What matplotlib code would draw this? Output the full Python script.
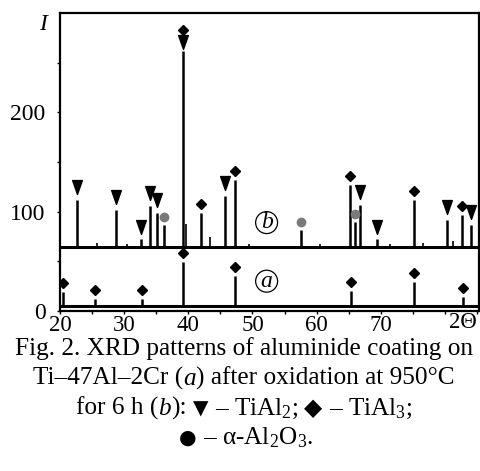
import matplotlib
matplotlib.use('Agg')
import matplotlib.pyplot as plt
from matplotlib.path import Path
from matplotlib.ticker import FixedLocator

plt.rcParams['font.family'] = ['Liberation Serif', 'DejaVu Sans']
plt.rcParams['mathtext.fontset'] = 'custom'
plt.rcParams['mathtext.rm'] = 'Liberation Serif'
plt.rcParams['mathtext.it'] = 'Liberation Serif:italic'

# ---------------- data ----------------
# pattern (b): after oxidation, offset baseline
baseline_b = 64
theta_b = [22.6, 28.7, 32.7, 34.1, 35.1, 36.2, 39.1, 42.0, 45.7, 47.3,
           57.5, 65.2, 66.0, 66.7, 69.4, 75.1, 80.3, 82.6, 84.0]
height_b = [112, 102, 72, 106, 99, 87, 262, 99, 116, 132,
            82, 127, 90, 107, 72, 112, 92, 97, 87]
phase_b = ['T', 'T', 'T', 'T', 'T', 'C', 'TD', 'D', 'T', 'D',
           'C', 'D', 'C', 'T', 'T', 'D', 'T', 'D', 'T']
minor_theta_b = [25.8, 30.5, 39.6, 43.4, 49.5, 60.5, 71.5, 76.6, 81.3]
minor_height_b = [68, 67, 88, 75, 67, 67, 67, 68, 70]

# pattern (a): aluminide coating
baseline_a = 5
theta_a = [20.5, 25.45, 32.8, 39.2, 47.3, 65.3, 75.1, 82.8]
height_a = [19, 12, 12, 49, 35, 20, 29, 14]
phase_a = ['D', 'D', 'D', 'D', 'D', 'D', 'D', 'D']

x_ticks = [20, 30, 40, 50, 60, 70, 80]
x_tick_labels = ['20', '30', '40', '50', '60', '70', '']
y_ticks = [0, 100, 200]
y_tick_labels = ['0', '100', '200']

# caption lines as (text, style) segments; style: n normal, i italic, s symbol
caption = [
    [("Fig. 2. XRD patterns of aluminide coating on", 'n')],
    [("Ti–47Al–2Cr (", 'n'), ("a", 'i'), (") after oxidation at 950°C", 'n')],
    [("for 6 h (", 'n'), ("b", 'i'), ("):", 'n'), ("▼", 's'),
     ("– TiAl$_2$;", 'n'), ("◆", 's'), ("– TiAl$_3$;", 'n')],
    [("●", 's'), ("– α-Al$_2$O$_3$.", 'n')],
]

# ---------------- figure ----------------
W, H = 481, 471
fig = plt.figure(figsize=(W / 100, H / 100), dpi=100)
ax = fig.add_axes([60 / W, 1 - 311 / H, 419 / W, 298 / H])
ax.set_xlim(20, 85.3)
ax.set_ylim(0, 300)

tri = Path([(-0.7, 1), (0.7, 1), (0, -1), (-0.7, 1)],
           [Path.MOVETO, Path.LINETO, Path.LINETO, Path.CLOSEPOLY])

# baselines
ax.axhline(baseline_b, color='k', lw=2.2)
ax.axhline(baseline_a, color='k', lw=2.2)

# peaks
ax.vlines(theta_b, baseline_b, height_b, color='k', lw=1.8)
ax.vlines(minor_theta_b, baseline_b, minor_height_b, color='k', lw=1.2)
ax.vlines(theta_a, baseline_a, height_a, color='k', lw=1.8)

def place_markers(thetas, heights, phases):
    tx, ty, dx, dy, cx, cy = [], [], [], [], [], []
    for t, h, p in zip(thetas, heights, phases):
        if p == 'T':
            tx.append(t); ty.append(h + 13)
        elif p == 'D':
            dx.append(t); dy.append(h + 9)
        elif p == 'C':
            cx.append(t); cy.append(h + 8)
        elif p == 'TD':
            tx.append(t); ty.append(h + 9)
            dx.append(t); dy.append(h + 21)
    ax.plot(tx, ty, ls='none', marker=tri, ms=10, color='k', mec='k')
    ax.plot(dx, dy, ls='none', marker='D', ms=5.2, color='k', mec='k')
    ax.plot(cx, cy, ls='none', marker='o', ms=6, color='#7a7a7a', mec='#7a7a7a')

place_markers(theta_b, height_b, phase_b)
place_markers(theta_a, height_a, phase_a)

# circled labels
for lbl, yv in (('b', 89), ('a', 30)):
    ax.text(52.2, yv, lbl, fontsize=17, style='italic', ha='center', va='center',
            bbox=dict(boxstyle='circle,pad=0.02', fc='white', ec='k', lw=0.9))

# axes styling
for s in ax.spines.values():
    s.set_linewidth(1.6)
ax.set_xticks(x_ticks)
ax.set_xticklabels(x_tick_labels)
ax.xaxis.set_minor_locator(FixedLocator([25, 35, 45, 55, 65, 75, 85]))
ax.set_yticks(y_ticks)
ax.set_yticklabels(y_tick_labels)
ax.yaxis.set_minor_locator(FixedLocator([50, 150, 250]))
ax.tick_params(axis='both', which='both', direction='out', length=2.5, width=1)
ax.tick_params(axis='x', labelsize=16.5, pad=0.5)
ax.tick_params(axis='y', labelsize=17, pad=8)

fig.text(43 / W, 1 - 25 / H, 'I', fontsize=17, style='italic', ha='center', va='center')
fig.text(463 / W, 1 - 322 / H, '2Θ', fontsize=16.5, ha='center', va='center')

# caption (segment layout, centered)
renderer = fig.canvas.get_renderer()
cap_base = [355, 385, 415, 444]
cap_x = [244, 244, 244, 246]
cap_fs = 18.2
space_px = 0.25 * cap_fs * 100 / 72
sym_size = {'▼': 14.5, '◆': 17, '●': 14.5}
for segs, cx_, by in zip(caption, cap_x, cap_base):
    items = []
    for i, (txt, st) in enumerate(segs):
        kw = dict(fontsize=cap_fs, family=['Liberation Serif', 'DejaVu Sans'])
        if st == 'i':
            kw['style'] = 'italic'
        if st == 's':
            kw = dict(fontsize=sym_size[txt], family='DejaVu Sans')
        t = fig.text(0, 1 - by / H, txt, ha='left', va='baseline', **kw)
        w = t.get_window_extent(renderer).width
        gap = 0.0
        if i > 0 and (st == 's' or segs[i - 1][1] == 's'):
            gap = space_px
        items.append((t, w, gap))
    total = sum(w + g for _, w, g in items)
    x = cx_ - total / 2
    for t, w, g in items:
        x += g
        t.set_x(x / W)
        x += w

fig.savefig('out.png', dpi=100)
